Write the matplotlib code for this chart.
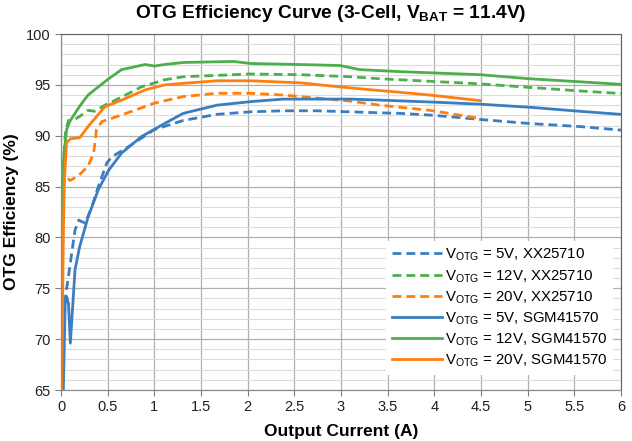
import matplotlib
matplotlib.use("Agg")
import matplotlib.pyplot as plt
from matplotlib.ticker import MultipleLocator

plt.rcParams['font.family'] = ['Liberation Sans', 'DejaVu Sans']
plt.rcParams['mathtext.fontset'] = 'custom'
plt.rcParams['mathtext.rm'] = 'Liberation Sans'
plt.rcParams['mathtext.bf'] = 'Liberation Sans:bold'

# ---- data ----
xx5_i = [0.04, 0.05, 0.1, 0.15, 0.19, 0.26, 0.33, 0.4, 0.49, 0.54, 0.72, 1.0, 1.31, 1.67, 2.03, 2.38, 2.74, 3.1, 3.42, 3.63, 4.0, 4.49, 5.02, 5.56, 6.0]
xx5_e = [73.5, 74.3, 77.5, 80.7, 81.7, 81.4, 83.0, 85.0, 87.3, 87.9, 88.9, 90.6, 91.5, 92.1, 92.35, 92.45, 92.45, 92.35, 92.25, 92.2, 92.0, 91.6, 91.2, 90.9, 90.55]

xx12_i = [0.01, 0.03, 0.05, 0.08, 0.13, 0.2, 0.29, 0.36, 0.47, 0.65, 0.86, 1.11, 1.31, 1.85, 2.03, 2.56, 3.1, 3.42, 3.63, 4.49, 5.02, 5.56, 6.0]
xx12_e = [80.0, 88.0, 90.5, 91.5, 91.5, 91.9, 92.5, 92.4, 93.0, 93.8, 94.8, 95.5, 95.8, 96.0, 96.07, 96.0, 95.8, 95.6, 95.5, 95.1, 94.75, 94.4, 94.15]

xx20_i = [0.03, 0.04, 0.1, 0.19, 0.29, 0.35, 0.38, 0.44, 0.54, 0.76, 1.0, 1.31, 1.67, 2.03, 2.38, 2.74, 3.1, 3.42, 3.63, 3.95, 4.49]
xx20_e = [85.0, 86.0, 85.6, 86.1, 87.0, 88.3, 90.6, 91.4, 91.7, 92.4, 93.2, 93.85, 94.17, 94.17, 94.0, 93.7, 93.4, 93.0, 92.8, 92.5, 91.7]

sgm5_i = [0.025, 0.045, 0.06, 0.08, 0.1, 0.15, 0.2, 0.29, 0.4, 0.51, 0.65, 0.86, 1.11, 1.31, 1.67, 2.03, 2.38, 2.74, 3.1, 3.42, 4.0, 4.49, 5.02, 5.56, 6.0]
sgm5_e = [65.0, 73.5, 74.2, 73.5, 69.6, 76.8, 79.1, 82.0, 84.7, 86.6, 88.3, 89.9, 91.2, 92.2, 93.0, 93.35, 93.6, 93.6, 93.6, 93.5, 93.3, 93.1, 92.8, 92.4, 92.1]

sgm12_i = [0.01, 0.03, 0.06, 0.1, 0.2, 0.29, 0.51, 0.65, 0.9, 1.0, 1.11, 1.31, 1.85, 2.03, 2.56, 2.99, 3.2, 3.63, 4.49, 5.02, 5.56, 6.0]
sgm12_e = [80.0, 88.0, 90.6, 91.5, 92.9, 94.0, 95.6, 96.5, 97.0, 96.85, 97.0, 97.2, 97.3, 97.1, 97.0, 96.9, 96.5, 96.3, 96.0, 95.6, 95.3, 95.05]

sgm20_i = [0.007, 0.025, 0.036, 0.06, 0.1, 0.2, 0.29, 0.47, 0.65, 0.9, 1.11, 1.31, 1.67, 2.03, 2.56, 2.99, 3.28, 3.63, 3.95, 4.49]
sgm20_e = [65.0, 80.0, 85.6, 89.3, 89.7, 89.8, 90.9, 92.85, 93.5, 94.5, 95.0, 95.15, 95.4, 95.4, 95.2, 94.8, 94.55, 94.27, 94.0, 93.45]

x_ticks = [0, 0.5, 1, 1.5, 2, 2.5, 3, 3.5, 4, 4.5, 5, 5.5, 6]
x_tick_labels = ['0', '0.5', '1', '1.5', '2', '2.5', '3', '3.5', '4', '4.5', '5', '5.5', '6']
y_ticks = [65, 70, 75, 80, 85, 90, 95, 100]

BLUE = '#3a7dc0'
GREEN = '#4cae4c'
ORANGE = '#ff7f0e'

fig = plt.figure(figsize=(6.32, 4.41), dpi=100)
ax = fig.add_axes([61/632, 1-390/441, 560/632, 356/441])

dash = (0, (3.2, 1.8))
lw = 2.0
ax.plot(xx5_i, xx5_e, color=BLUE, lw=lw, ls=dash, label=r'V$_{\mathrm{OTG}}$ = 5V, XX25710')
ax.plot(xx12_i, xx12_e, color=GREEN, lw=lw, ls=dash, label=r'V$_{\mathrm{OTG}}$ = 12V, XX25710')
ax.plot(xx20_i, xx20_e, color=ORANGE, lw=lw, ls=dash, label=r'V$_{\mathrm{OTG}}$ = 20V, XX25710')
ax.plot(sgm5_i, sgm5_e, color=BLUE, lw=lw, label=r'V$_{\mathrm{OTG}}$ = 5V, SGM41570')
ax.plot(sgm12_i, sgm12_e, color=GREEN, lw=lw, label=r'V$_{\mathrm{OTG}}$ = 12V, SGM41570')
ax.plot(sgm20_i, sgm20_e, color=ORANGE, lw=lw, label=r'V$_{\mathrm{OTG}}$ = 20V, SGM41570')

ax.set_xlim(0, 6)
ax.set_ylim(65, 100)
ax.set_xticks(x_ticks)
ax.set_xticklabels(x_tick_labels)
ax.set_yticks(y_ticks)
ax.yaxis.set_minor_locator(MultipleLocator(1))
ax.grid(True, which='major', axis='both', color='#b0b0b0', lw=0.9)
ax.grid(True, which='minor', axis='y', color='#dcdcdc', lw=0.8)
ax.set_axisbelow(True)
ax.tick_params(axis='both', which='major', labelsize=10.5, colors='#7f7f7f', labelcolor='#202020', length=4, width=0.8)
ax.tick_params(axis='y', which='minor', length=0)
for side in ['top', 'right']:
    ax.spines[side].set_color('#606060')
    ax.spines[side].set_linestyle((0, (1, 1)))
    ax.spines[side].set_linewidth(0.8)
for side in ['left', 'bottom']:
    ax.spines[side].set_color('#8c8c8c')
    ax.spines[side].set_linewidth(0.9)

ax.set_xlabel('Output Current (A)', fontsize=12.5, fontweight='bold', labelpad=7)
ax.set_ylabel('OTG Efficiency (%)', fontsize=12.5, fontweight='bold', labelpad=5)
fig.text(0.5 + 15/632, 1-14/441, r'OTG Efficiency Curve (3-Cell, V$_{\mathbf{BAT}}$ = 11.4V)',
         ha='center', va='center', fontsize=13.8, fontweight='bold')

leg = ax.legend(loc='lower right', bbox_to_anchor=(1.0, 0.02), fontsize=10.8, frameon=True,
                fancybox=False, edgecolor='none', facecolor='white', framealpha=1,
                handlelength=3.3, handletextpad=0.2, labelspacing=0.3, borderpad=0.4)

fig.savefig('out.png', dpi=100)
